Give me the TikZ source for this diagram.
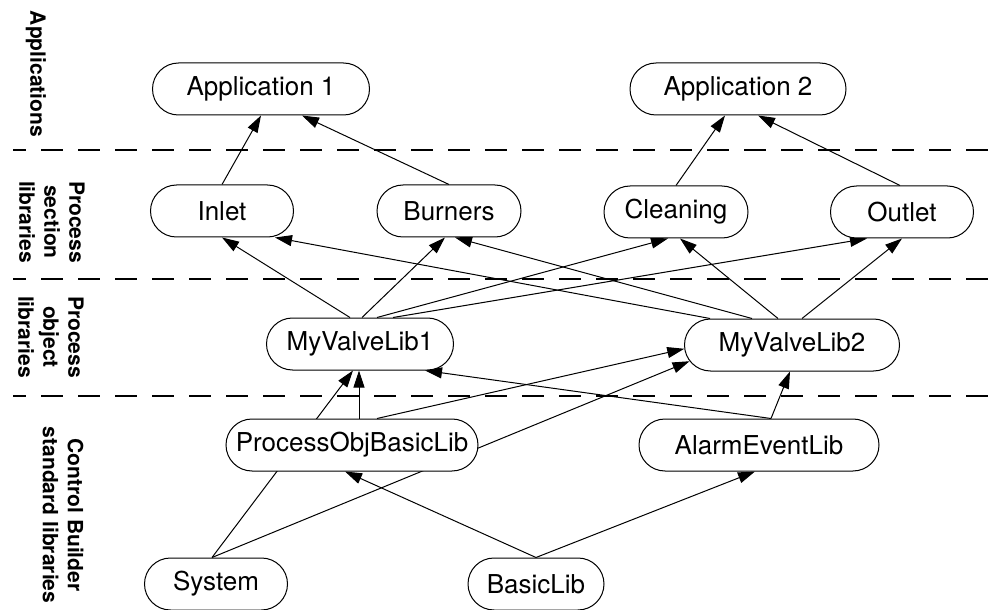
\documentclass[tikz,border=0pt]{standalone}
\usepackage{fontspec}
\setmainfont{TeX Gyre Heros}
\usetikzlibrary{
        arrows.meta,
        shapes.misc,
        backgrounds
    }

\begin{document}
\begin{tikzpicture}[
x=0.5pt, y=-0.5pt,
libshape/.style={rounded rectangle, draw=black, fill=white, line width=0.5pt, minimum width=75.5pt, minimum height=26pt, inner sep=2pt, font=\fontsize{13}{15}\selectfont},
tierlabel/.style={rotate=-90, align=center, inner sep=0pt, font=\bfseries\fontsize{10.5}{12.5}\selectfont},
divider/.style={line width=1.25pt, dash pattern=on 11pt off 7.5pt, dash phase=4.5pt},
arrow/.style={line width=0.5pt, -{Triangle[length=8.5pt, width=5.5pt]}},
]
\useasboundingbox (0,0) rectangle (992,610);

\node (app1) [libshape, minimum width=112.5pt] at (261,89) {Application 1};
\node (app2) [libshape, minimum width=112pt] at (738,89) {Application 2};
\node (inlet) [libshape] at (222,211) {Inlet};
\node (burners) [libshape, minimum width=76pt] at (449,211) {Burners};
\node (cleaning) [libshape, minimum width=76pt] at (676,212) {Cleaning};
\node (outlet) [libshape] at (902,212) {Outlet};
\node (valve1) [libshape, minimum width=97.5pt] at (360,344) {MyValveLib1};
\node (valve2) [libshape, minimum width=111.5pt] at (792,345) {MyValveLib2};
\node (pobj) [libshape, minimum width=130pt] at (352,445) {ProcessObjBasicLib};
\node (alarm) [libshape, minimum width=124pt] at (759,445) {AlarmEventLib};
\node (system) [libshape] at (216,584) {System};
\node (basiclib) [libshape, minimum width=72pt] at (536,584) {BasicLib};

\node (appslabel) [tierlabel] at (36,74) {Applications};
\node (sectlabel) [tierlabel] at (52,222) {Process\\section\\libraries};
\node (objlabel) [tierlabel] at (51,337) {Process\\object\\libraries};
\node (stdlabel) [tierlabel] at (63,515) {Control Builder\\standard libraries};

\draw[divider] (13,150) -- (992,150);
\draw[divider] (13,279) -- (992,279);
\draw[divider] (13,396) -- (992,396);

\begin{scope}[on background layer]
\draw[arrow] (inlet.north) -- (app1.south);
\draw[arrow] (burners.north) -- ([xshift=20.5pt]app1.south);
\draw[arrow] (cleaning.north) -- ([xshift=-6.5pt]app2.south);
\draw[arrow] ([xshift=-1pt]outlet.north) -- ([xshift=10pt]app2.south);

\draw[arrow] ([xshift=-5pt]valve1.north) -- (inlet.south);
\draw[arrow] ([xshift=1pt]valve1.north) -- ([xshift=-2pt]burners.south);
\draw[arrow] ([xshift=8.5pt]valve1.north) -- ([xshift=-4pt]cleaning.south);
\draw[arrow] ([xshift=16.5pt]valve1.north) -- ([xshift=-17.5pt]outlet.south);
\draw[arrow] ([xshift=-41pt]valve2.north) -- ([xshift=26.5pt]inlet.south);
\draw[arrow] ([xshift=-20pt]valve2.north) -- ([xshift=3pt]burners.south);
\draw[arrow] ([xshift=-7pt]valve2.north) -- ([xshift=2pt]cleaning.south);
\draw[arrow] ([xshift=5pt]valve2.north) -- (outlet.south);

\draw[arrow] ([xshift=3.5pt]pobj.north) -- ([xshift=-0.5pt]valve1.south);
\draw[arrow] ([xshift=12.5pt]pobj.north) -- (valve2.182);
\draw[arrow] ([xshift=6pt]alarm.north) -- ([xshift=32.5pt]valve1.south);
\draw[arrow] ([xshift=6pt]alarm.north) -- ([xshift=-1pt]valve2.south);
\draw[arrow] ([xshift=-2pt]system.north) -- ([xshift=-3.5pt]valve1.south);
\draw[arrow] ([xshift=-2pt]system.north) -- (valve2.189);
\draw[arrow] (basiclib.north) -- ([xshift=-3.5pt]pobj.south);
\draw[arrow] (basiclib.north) -- ([xshift=-2pt]alarm.south);
\end{scope}

\end{tikzpicture}
\end{document}
